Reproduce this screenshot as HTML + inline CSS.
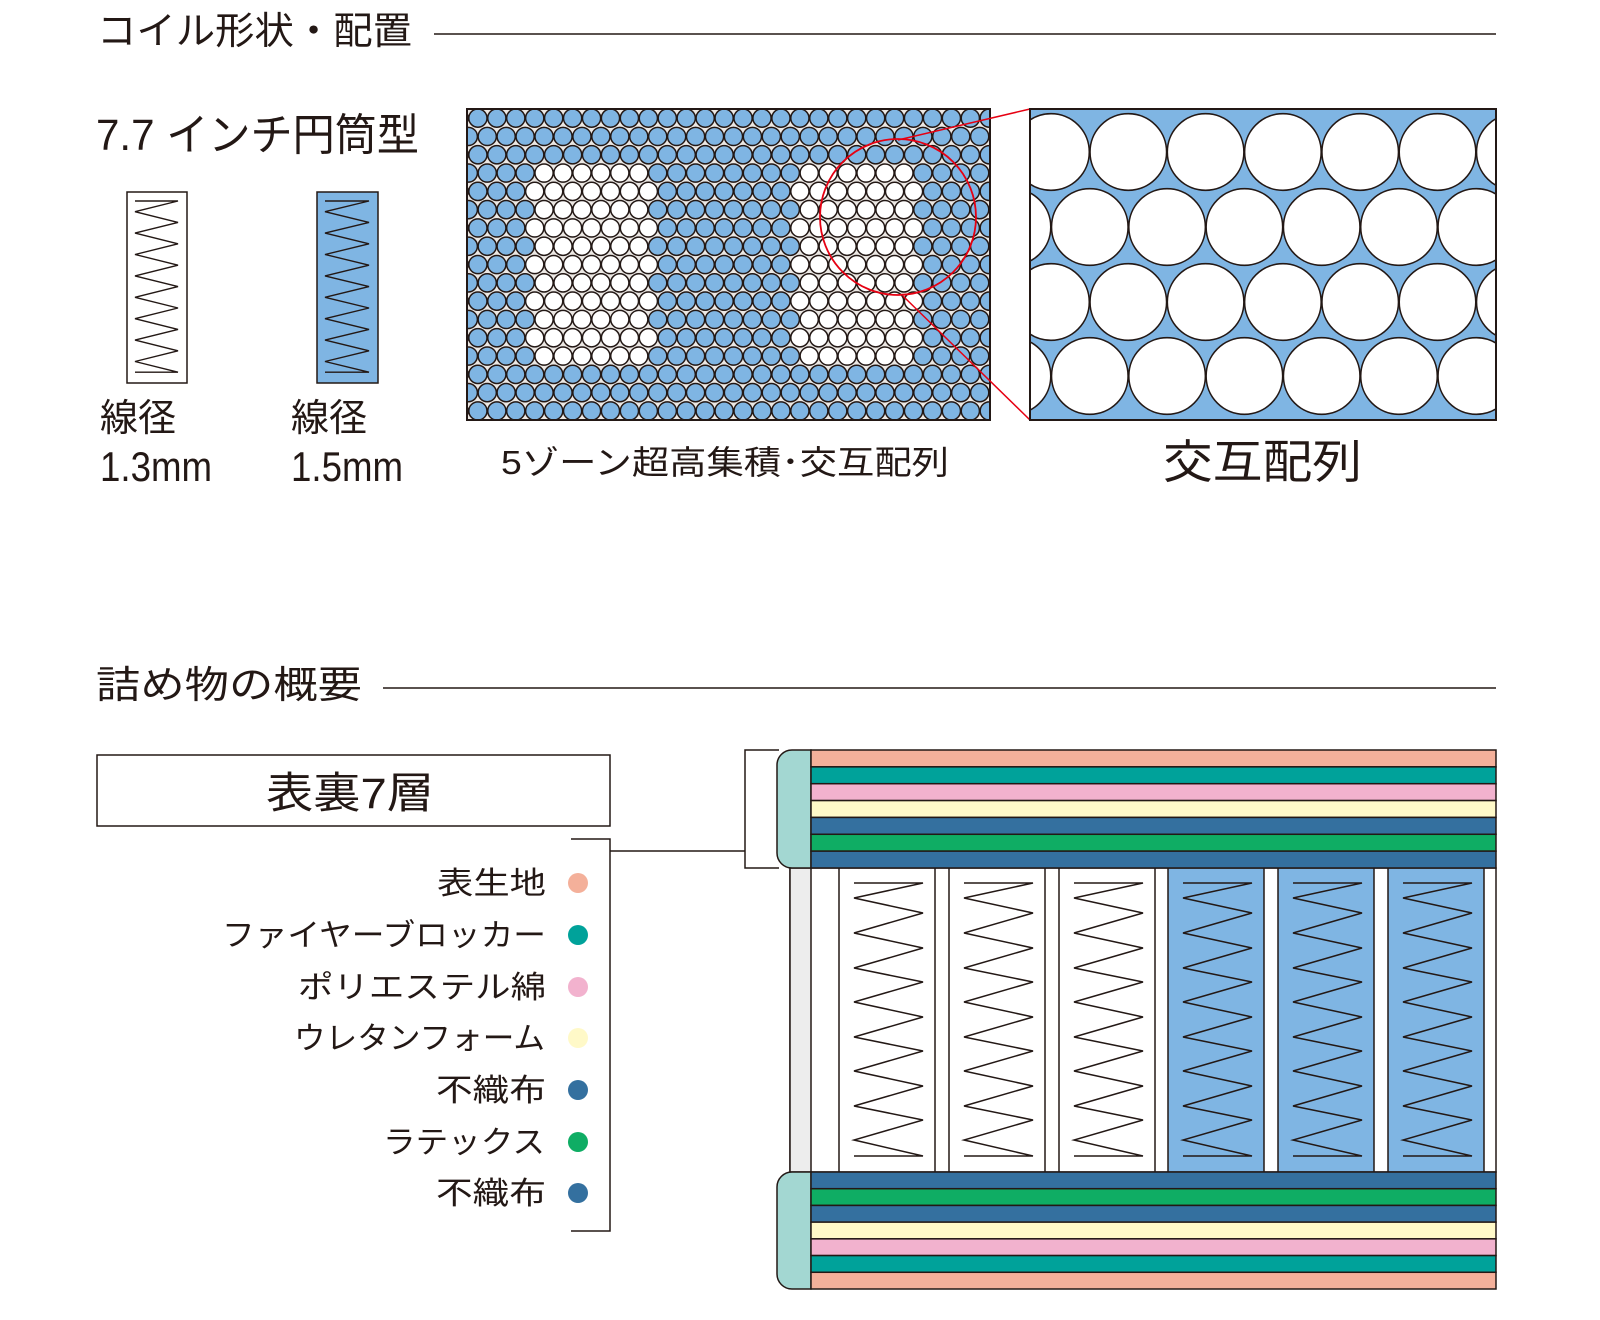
<!DOCTYPE html>
<html><head><meta charset="utf-8"><style>
html,body{margin:0;padding:0;background:#fff;}
svg{display:block;}
text{font-family:"Liberation Sans","Noto Sans CJK JP",sans-serif;fill:#231815;}
</style></head><body>
<svg id="s" width="1600" height="1320" viewBox="0 0 1600 1320" xmlns="http://www.w3.org/2000/svg">
<defs>
<clipPath id="cg"><rect x="467" y="109" width="523" height="311"/></clipPath>
<clipPath id="cp"><rect x="1030" y="109" width="466" height="311"/></clipPath>
</defs>
<text x="97" y="44" font-size="38" textLength="315" lengthAdjust="spacingAndGlyphs">コイル形状・配置</text>
<line x1="434" y1="34" x2="1496" y2="34" stroke="#231815" stroke-width="1.5"/>
<text x="96" y="150" font-size="44" textLength="323" lengthAdjust="spacingAndGlyphs">7.7 インチ円筒型</text>

<rect x="127" y="192" width="60" height="191" fill="#fff" stroke="#231815" stroke-width="1.5"/>
<rect x="317" y="192" width="61" height="191" fill="#7FB5E3" stroke="#231815" stroke-width="1.5"/>
<g id="smallzig" fill="none" stroke="#231815" stroke-width="1.4"></g>

<text x="100" y="431" font-size="38">線径</text>
<text x="100" y="481" font-size="42" textLength="112" lengthAdjust="spacingAndGlyphs">1.3mm</text>
<text x="291" y="431" font-size="38">線径</text>
<text x="291" y="481" font-size="42" textLength="112" lengthAdjust="spacingAndGlyphs">1.5mm</text>

<rect x="467" y="109" width="523" height="311" fill="#ece8e4"/>
<g id="grid" clip-path="url(#cg)" stroke="#231815" stroke-width="1.5"></g>
<rect x="467" y="109" width="523" height="311" fill="none" stroke="#231815" stroke-width="2"/>
<circle cx="898" cy="217" r="78" fill="none" stroke="#E60012" stroke-width="1.8"/>
<line x1="898" y1="140" x2="1030" y2="109" stroke="#E60012" stroke-width="1.5"/>
<line x1="903" y1="296" x2="1030" y2="420" stroke="#E60012" stroke-width="1.5"/>

<rect x="1030" y="109" width="466" height="311" fill="#7FB5E3"/>
<g id="panel" clip-path="url(#cp)" fill="#fff" stroke="#231815" stroke-width="1.6"></g>
<rect x="1030" y="109" width="466" height="311" fill="none" stroke="#231815" stroke-width="2"/>

<text x="501" y="474" font-size="33" textLength="448" lengthAdjust="spacingAndGlyphs">5ゾーン超高集積･交互配列</text>
<text x="1163" y="478" font-size="46" textLength="199" lengthAdjust="spacingAndGlyphs">交互配列</text>

<text x="96" y="698" font-size="38" textLength="266" lengthAdjust="spacingAndGlyphs">詰め物の概要</text>
<line x1="383" y1="688" x2="1496" y2="688" stroke="#231815" stroke-width="1.5"/>

<rect x="97" y="755" width="513" height="71" fill="#fff" stroke="#231815" stroke-width="1.5"/>
<text x="266" y="808" font-size="43" textLength="168" lengthAdjust="spacingAndGlyphs">表裏7層</text>

<g font-size="31">
<text x="437" y="894" textLength="109" lengthAdjust="spacingAndGlyphs">表生地</text>
<text x="222" y="946" textLength="324" lengthAdjust="spacingAndGlyphs">ファイヤーブロッカー</text>
<text x="298" y="998" textLength="248" lengthAdjust="spacingAndGlyphs">ポリエステル綿</text>
<text x="294" y="1049" textLength="251" lengthAdjust="spacingAndGlyphs">ウレタンフォーム</text>
<text x="436" y="1101" textLength="110" lengthAdjust="spacingAndGlyphs">不織布</text>
<text x="383" y="1153" textLength="162" lengthAdjust="spacingAndGlyphs">ラテックス</text>
<text x="436" y="1204" textLength="110" lengthAdjust="spacingAndGlyphs">不織布</text>
</g>
<circle cx="578" cy="883" r="10" fill="#F4B09A"/>
<circle cx="578" cy="935" r="10" fill="#00A29A"/>
<circle cx="578" cy="987" r="10" fill="#F2B2CE"/>
<circle cx="578" cy="1038" r="10" fill="#FFF9C8"/>
<circle cx="578" cy="1090" r="10" fill="#34709F"/>
<circle cx="578" cy="1142" r="10" fill="#0FAD64"/>
<circle cx="578" cy="1193" r="10" fill="#34709F"/>

<g fill="none" stroke="#231815" stroke-width="1.5">
<polyline points="571,839 610,839 610,1231 571,1231"/>
<line x1="610" y1="851" x2="745" y2="851"/>
<polyline points="779,750 745,750 745,868 779,868"/>
</g>

<rect x="790" y="868" width="706" height="304" fill="#fff" stroke="#231815" stroke-width="1.5"/>
<rect x="790" y="868" width="21" height="304" fill="#EDEDED" stroke="#231815" stroke-width="1.5"/>
<g id="cols"></g>
<g id="top"></g>
<g id="bot"></g>
</svg>
<script>
var NS="http://www.w3.org/2000/svg";
function el(t,a,p){var e=document.createElementNS(NS,t);for(var k in a)e.setAttribute(k,a[k]);p.appendChild(e);return e;}
var sz=document.getElementById('smallzig');
[[135,178],[325,369]].forEach(function(c){
 var L=c[0],R=c[1],pts=[[L,201],[R,201]];var y=201,st=10.7;
 for(var i=0;i<8;i++){pts.push([L,y+st]);pts.push([R,y+2*st]);y+=2*st;}
 pts.push([L,y]);
 el('polyline',{points:pts.map(function(p){return p.join(',')}).join(' ')},sz);
});
var g=document.getElementById('grid');
for(var r=0;r<17;r++){
 var cy=109+9.15+18.3*r;var ev=(r%2==1);
 var x0=ev?468.3:477.9;
 for(var k=-1;k<30;k++){
  var cx=x0+18.94*k;var w=false;
  if(r>=3&&r<=13){ if(ev){w=(k>=4&&k<=9)||(k>=18&&k<=23);} else {w=(k>=3&&k<=9)||(k>=17&&k<=23);} }
  el('circle',{cx:cx,cy:cy,r:9.1,fill:w?'#fff':'#7FB5E3'},g);
 }
}
var p=document.getElementById('panel');
[152,227,302,376].forEach(function(cy,i){
 var x0=(i%2==0)?1051:1012.5;
 for(var k=0;k<8;k++)el('circle',{cx:x0+77.3*k,cy:cy,r:38.3},p);
});
var cols=document.getElementById('cols');
var lefts=[839,949,1059,1168,1278,1388];
var yL=[898,933,968,1002,1037,1071,1106,1140],yR=[883,913,948,982,1017,1051,1086,1120,1156];
lefts.forEach(function(x,i){
 el('rect',{x:x,y:868,width:96,height:304,fill:i>=3?'#7FB5E3':'#fff',stroke:'#231815','stroke-width':1.5},cols);
 var L=x+15,R=x+84;var pts=[[L,883],[R,883]];
 for(var j=0;j<8;j++){pts.push([L,yL[j]]);pts.push([R,yR[j+1]]);}
 pts.push([L,1156]);
 el('polyline',{points:pts.map(function(q){return q.join(',')}).join(' '),fill:'none',stroke:'#231815','stroke-width':1.5},cols);
});
function block(id,y0,colors){
 var b=document.getElementById(id);var h=(y0==750?118:117)/7;
 el('path',{d:'M811,'+y0+' H792 A15,15 0 0 0 777,'+(y0+15)+' V'+(y0+7*h-15)+' A15,15 0 0 0 792,'+(y0+7*h)+' H811 Z',fill:'#A3D7D2',stroke:'#231815','stroke-width':1.5},b);
 colors.forEach(function(c,i){el('rect',{x:811,y:y0+i*h,width:685,height:h,fill:c,stroke:'#231815','stroke-width':1.5},b);});
}
block('top',750,['#F4B09A','#00A29A','#F2B2CE','#FFF9C8','#34709F','#0FAD64','#34709F']);
block('bot',1172,['#34709F','#0FAD64','#34709F','#FFF9C8','#F2B2CE','#00A29A','#F4B09A']);
</script>
</body></html>
